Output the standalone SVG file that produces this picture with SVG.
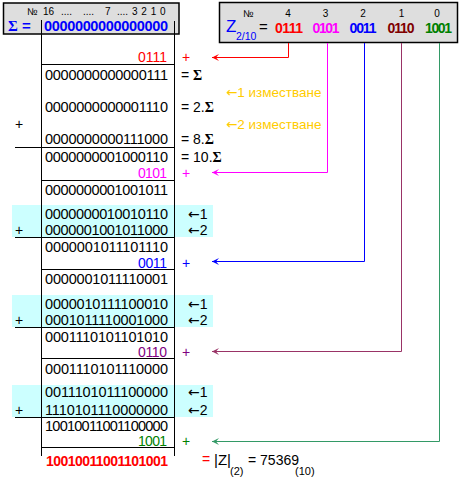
<svg xmlns="http://www.w3.org/2000/svg" width="463" height="484" viewBox="0 0 463 484">
<style>
text{font-family:"Liberation Sans",Arial,sans-serif;}
.n{font-size:14px;}
.d{font-size:14.5px;}
.q{font-size:14px;}
.r{text-anchor:end;}
.sg{font-family:"Liberation Serif","Times New Roman",serif;font-weight:bold;}
.ar{font-family:"DejaVu Sans",sans-serif;}
.hd{font-size:10px;}
.ln{stroke:#000;stroke-width:1;fill:none;}
.band{fill:#ccffff;}
.box{fill:#dedede;stroke:#000;stroke-width:1.5;}
.or{font-size:13.5px;}
.c{fill:none;stroke-width:1;}
</style>
<defs>
<marker id="aR" markerUnits="userSpaceOnUse" markerWidth="8" markerHeight="8" refX="7" refY="3.5" orient="auto" viewBox="0 0 8 7"><path d="M7,3.5 L0,0 L3,3.5 L0,7 z" fill="#ff0000"/></marker>
<marker id="aM" markerUnits="userSpaceOnUse" markerWidth="8" markerHeight="8" refX="7" refY="3.5" orient="auto" viewBox="0 0 8 7"><path d="M7,3.5 L0,0 L3,3.5 L0,7 z" fill="#ff00ff"/></marker>
<marker id="aB" markerUnits="userSpaceOnUse" markerWidth="8" markerHeight="8" refX="7" refY="3.5" orient="auto" viewBox="0 0 8 7"><path d="M7,3.5 L0,0 L3,3.5 L0,7 z" fill="#0000ff"/></marker>
<marker id="aD" markerUnits="userSpaceOnUse" markerWidth="8" markerHeight="8" refX="7" refY="3.5" orient="auto" viewBox="0 0 8 7"><path d="M7,3.5 L0,0 L3,3.5 L0,7 z" fill="#993366"/></marker>
<marker id="aG" markerUnits="userSpaceOnUse" markerWidth="8" markerHeight="8" refX="7" refY="3.5" orient="auto" viewBox="0 0 8 7"><path d="M7,3.5 L0,0 L3,3.5 L0,7 z" fill="#339966"/></marker>
</defs>
<rect width="463" height="484" fill="#ffffff"/>

<!-- cyan bands -->
<g id="bands">
<rect class="band" x="12" y="205" width="201" height="32"/>
<rect class="band" x="12" y="295" width="201" height="32"/>
<rect class="band" x="12" y="385" width="201" height="32"/>
</g>

<!-- sum header -->
<g id="sum-header">
<rect class="box" x="3.5" y="3" width="175.5" height="31"/>
<text class="hd" x="27" y="15">№</text>
<text class="hd" x="43" y="15">16</text>
<text class="hd" x="61" y="15">....</text>
<text class="hd" x="83" y="15">....</text>
<text class="hd" x="105" y="15">7</text>
<text class="hd" x="117" y="15">....</text>
<text class="hd" x="132" y="15" word-spacing="1">3 2 1 0</text>
<text x="8" y="31" font-size="15" font-weight="bold" fill="#0000ff"><tspan class="sg">Σ</tspan> =</text>
<text x="168" y="31" class="r" font-size="14.5" font-weight="bold" fill="#0000ff" textLength="124">0000000000000000</text>
</g>

<!-- Z header -->
<g id="z-header">
<rect class="box" x="219.5" y="2.5" width="238" height="40"/>
<text class="hd" x="243" y="16.5" font-size="11">№</text>
<text class="hd" x="288" y="16.5" text-anchor="middle" font-size="11">4</text>
<text class="hd" x="325.5" y="16.5" text-anchor="middle" font-size="11">3</text>
<text class="hd" x="363" y="16.5" text-anchor="middle" font-size="11">2</text>
<text class="hd" x="401.5" y="16.5" text-anchor="middle" font-size="11">1</text>
<text class="hd" x="437" y="16.5" text-anchor="middle" font-size="11">0</text>
<text x="226" y="32" font-size="17" fill="#0000ff">Z</text>
<text x="236" y="39.5" font-size="10.5" fill="#0000ff">2/10</text>
<text x="259" y="32" font-size="15" fill="#000">=</text>
<g font-size="14" font-weight="bold">
<text x="275" y="32.5" fill="#ff0000" textLength="28">0111</text>
<text x="312.5" y="32.5" fill="#ff00ff" textLength="27">0101</text>
<text x="349.5" y="32.5" fill="#0000ff" textLength="27">0011</text>
<text x="387.5" y="32.5" fill="#800000" textLength="27">0110</text>
<text x="425" y="32.5" fill="#008000" textLength="27">1001</text>
</g>
</g>

<!-- table lines -->
<g id="table">
<line class="ln" x1="41.5" y1="20" x2="41.5" y2="456"/>
<line class="ln" x1="174.5" y1="21" x2="174.5" y2="456"/>
<line class="ln" x1="41" y1="64.5" x2="175" y2="64.5"/>
<line class="ln" x1="15" y1="147.5" x2="175" y2="147.5"/>
<line class="ln" x1="41" y1="180.5" x2="175" y2="180.5"/>
<line class="ln" x1="15" y1="237.5" x2="175" y2="237.5"/>
<line class="ln" x1="41" y1="269.5" x2="175" y2="269.5"/>
<line class="ln" x1="15" y1="327.5" x2="175" y2="327.5"/>
<line class="ln" x1="41" y1="358.5" x2="175" y2="358.5"/>
<line class="ln" x1="15" y1="417.5" x2="175" y2="417.5"/>
<line class="ln" x1="41" y1="447.5" x2="175" y2="447.5"/>
</g>

<!-- rows -->
<g id="rows">
<text class="q r" x="167" y="61.5" fill="#ff0000" textLength="29">0111</text>
<text x="182" y="61.5" class="n" fill="#ff0000">+</text>

<text class="d r" x="168" y="80" textLength="123">0000000000000111</text>
<text class="n" x="181" y="80">= <tspan class="sg">Σ</tspan></text>

<text class="or" x="226" y="97" fill="#ffcc00"><tspan class="ar">←</tspan>1 изместване</text>

<text class="d r" x="168" y="112" textLength="123">0000000000001110</text>
<text class="n" x="181" y="112">= 2.<tspan class="sg">Σ</tspan></text>

<text class="n" x="15" y="129">+</text>
<text class="or" x="226" y="129" fill="#ffcc00"><tspan class="ar">←</tspan>2 изместване</text>

<text class="d r" x="168" y="144" textLength="123">0000000000111000</text>
<text class="n" x="181" y="144">= 8.<tspan class="sg">Σ</tspan></text>

<text class="d r" x="168" y="162" textLength="123">0000000001000110</text>
<text class="n" x="181" y="162">= 10.<tspan class="sg">Σ</tspan></text>

<text class="q r" x="167" y="178" fill="#ff00ff" textLength="29">0101</text>
<text x="182" y="178" class="n" fill="#ff00ff">+</text>

<text class="d r" x="168" y="195" textLength="123">0000000001001011</text>

<text class="d r" x="168" y="219" textLength="123">0000000010010110</text>
<text class="n" x="188" y="219"><tspan class="ar">←</tspan>1</text>
<text class="n" x="15" y="235">+</text>
<text class="d r" x="168" y="235" textLength="123">0000001001011000</text>
<text class="n" x="188" y="235"><tspan class="ar">←</tspan>2</text>

<text class="d r" x="168" y="252" textLength="123">0000001011101110</text>
<text class="q r" x="167" y="267.5" fill="#0000ff" textLength="29">0011</text>
<text x="182" y="267.5" class="n" fill="#0000ff">+</text>

<text class="d r" x="168" y="284" textLength="123">0000001011110001</text>

<text class="d r" x="168" y="309" textLength="123">0000010111100010</text>
<text class="n" x="188" y="309"><tspan class="ar">←</tspan>1</text>
<text class="n" x="15" y="325">+</text>
<text class="d r" x="168" y="325" textLength="123">0001011110001000</text>
<text class="n" x="188" y="325"><tspan class="ar">←</tspan>2</text>

<text class="d r" x="168" y="341.5" textLength="123">0001110101101010</text>
<text class="q r" x="167" y="357" fill="#800080" textLength="29">0110</text>
<text x="182" y="357" class="n" fill="#800080">+</text>

<text class="d r" x="168" y="373.5" textLength="123">0001110101110000</text>

<text class="d r" x="168" y="397" textLength="123">0011101011100000</text>
<text class="n" x="188" y="397"><tspan class="ar">←</tspan>1</text>
<text class="n" x="15" y="415">+</text>
<text class="d r" x="168" y="415" textLength="123">1110101110000000</text>
<text class="n" x="188" y="415"><tspan class="ar">←</tspan>2</text>

<text class="d r" x="168" y="430.5" textLength="123">10010011001100000</text>
<text class="q r" x="167" y="446" fill="#008000" textLength="29">1001</text>
<text x="182" y="446" class="n" fill="#008000">+</text>

<text x="168" y="465.5" text-anchor="end" font-size="14" font-weight="bold" fill="#ff0000" textLength="122">10010011001101001</text>
</g>

<g id="result">
<text x="202" y="464" font-size="14" fill="#ff0000">=</text>
<text x="214" y="465" font-size="15" fill="#000">|Z|</text>
<text x="230" y="475" font-size="11" fill="#000">(2)</text>
<text x="248" y="465" font-size="14" fill="#000">= 75369</text>
<text x="295" y="475" font-size="11" fill="#000">(10)</text>
</g>

<!-- connectors -->
<g id="connectors">
<path class="c" stroke="#ff0000" d="M288.5,43 V57.5 H212" marker-end="url(#aR)"/>
<path class="c" stroke="#ff00ff" d="M327.5,43 V172.5 H212" marker-end="url(#aM)"/>
<path class="c" stroke="#0000ff" d="M364.5,43 V261.5 H212" marker-end="url(#aB)"/>
<path class="c" stroke="#993366" d="M401.5,43 V351.5 H212" marker-end="url(#aD)"/>
<path class="c" stroke="#339966" d="M439.5,43 V441.5 H212" marker-end="url(#aG)"/>
</g>
</svg>
